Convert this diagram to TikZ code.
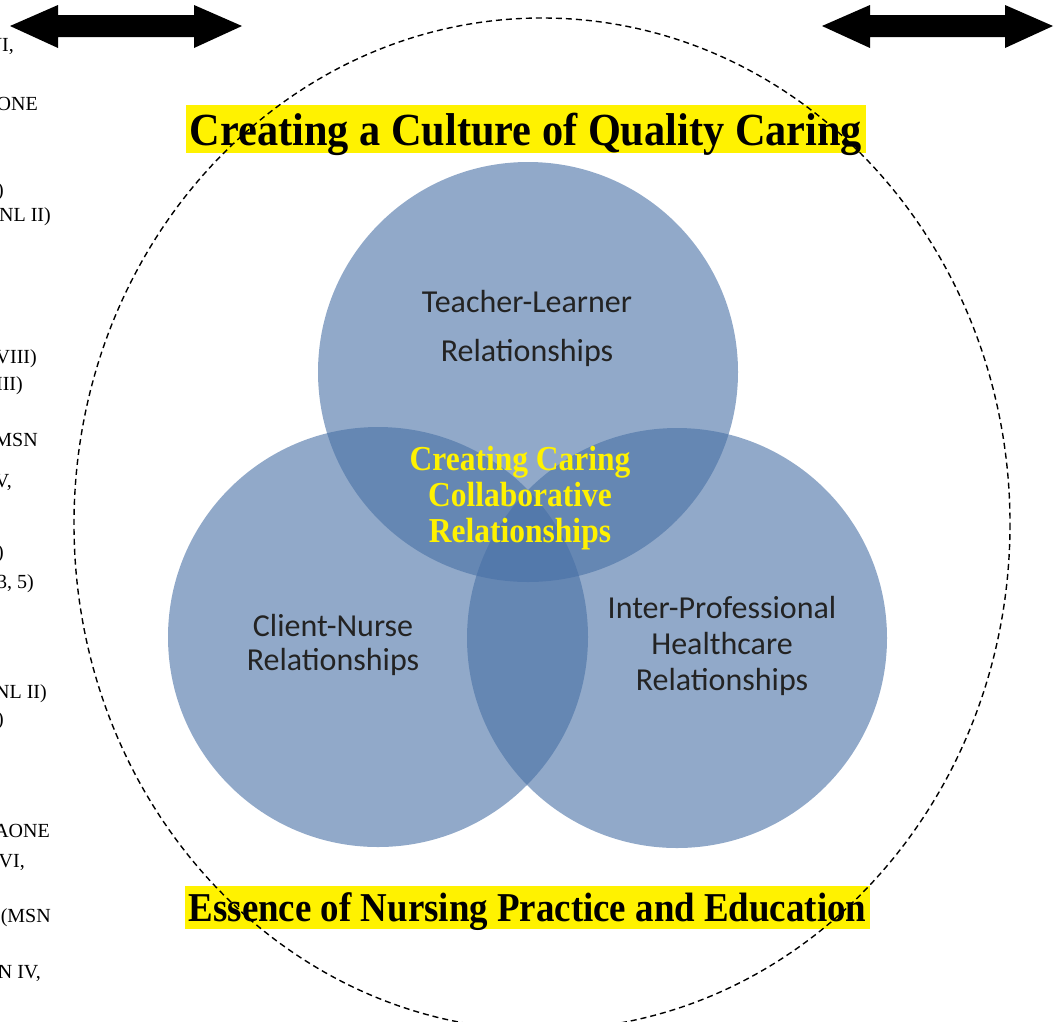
\documentclass[tikz,border=0pt]{standalone}
\usepackage{fontspec}
\setmainfont{Liberation Serif}
\newfontfamily\calibri{Carlito}
\begin{document}
\begin{tikzpicture}[x=1pt,y=-1pt,
  bubble/.style={circle, minimum size=420pt, inner sep=0pt, fill={rgb,255:red,72;green,112;blue,165}, fill opacity=0.6, draw=none},
  clabel/.style={align=center, text={rgb,255:red,35;green,35;blue,35}, inner sep=0pt},
  sidetxt/.style={anchor=east, inner sep=0pt, text height=14pt, text depth=4pt, font=\fontsize{20}{22}\selectfont},
  titlebox/.style={fill=yellow, inner sep=0pt},
  dblarrow/.style={fill=black}
]
\useasboundingbox (0,0) rectangle (1056,1021);

% double arrows
\fill[dblarrow] (10,26) -- (58,5) -- (58,15) -- (194,15) -- (194,5) -- (242,26) -- (194,48) -- (194,37) -- (58,37) -- (58,48) -- cycle;
\fill[dblarrow] (822,26) -- (870,5) -- (870,15) -- (1005,15) -- (1005,5) -- (1053,26) -- (1005,48) -- (1005,37) -- (870,37) -- (870,48) -- cycle;

% left column text fragments
\node[sidetxt] (s1) at (14,46) {VI,};
\node[sidetxt] (s2) at (38,105) {ONE};
\node[sidetxt] (s3) at (4,191) {)};
\node[sidetxt] (s4) at (51,216) {NL II)};
\node[sidetxt] (s5) at (37,358) {VIII)};
\node[sidetxt] (s6) at (23,385) {III)};
\node[sidetxt] (s7) at (38,441) {MSN};
\node[sidetxt] (s8) at (12,482) {V,};
\node[sidetxt] (s9) at (4,553) {)};
\node[sidetxt] (s10) at (34,583) {3, 5)};
\node[sidetxt] (s11) at (47,693) {NL II)};
\node[sidetxt] (s12) at (4,720) {)};
\node[sidetxt] (s13) at (50,832) {AONE};
\node[sidetxt] (s14) at (25,862) {VI,};
\node[sidetxt] (s15) at (51,917) {(MSN};
\node[sidetxt] (s16) at (41,973) {N IV,};

% circles
\node[bubble] (tl) at (528,372) {};
\node[bubble] (cn) at (378,637) {};
\node[bubble] (ip) at (677,638) {};

% circle labels
\node[clabel, font=\calibri\fontsize{32}{49}\selectfont] (tlt) at (527,328) {Teacher-Learner\\Relationships};
\node[clabel, font=\calibri\fontsize{32}{34}\selectfont] (cnt) at (333,645) {Client-Nurse\\Relationships};
\node[clabel, font=\calibri\fontsize{32}{36}\selectfont] (ipt) at (722,646) {Inter-Professional\\Healthcare\\Relationships};

% center label
\node[align=center, text=yellow, inner sep=0pt, font=\bfseries\fontsize{35}{36}\selectfont] (ctr) at (520,498)
  {\scalebox{0.9}[1]{Creating Caring}\\\scalebox{0.9}[1]{Collaborative}\\\scalebox{0.9}[1]{Relationships}};

% titles
\node[titlebox, minimum width=680pt, minimum height=48pt] (title) at (526,129) {};
\node[inner sep=0pt, anchor=base] (titletxt) at (526,145)
  {\scalebox{0.92}[1]{\bfseries\fontsize{46}{46}\selectfont Creating a Culture of Quality Caring}};
\node[titlebox, minimum width=685pt, minimum height=43pt] (essence) at (527.5,907.5) {};
\node[inner sep=0pt, anchor=base] (essencetxt) at (527.5,921)
  {\scalebox{0.9}[1]{\bfseries\fontsize{41}{41}\selectfont Essence of Nursing Practice and Education}};

% dashed outer ellipse
\draw[dash pattern=on 6pt off 4pt, line width=1.4pt] (542,524) ellipse [x radius=468, y radius=506];
\end{tikzpicture}
\end{document}
